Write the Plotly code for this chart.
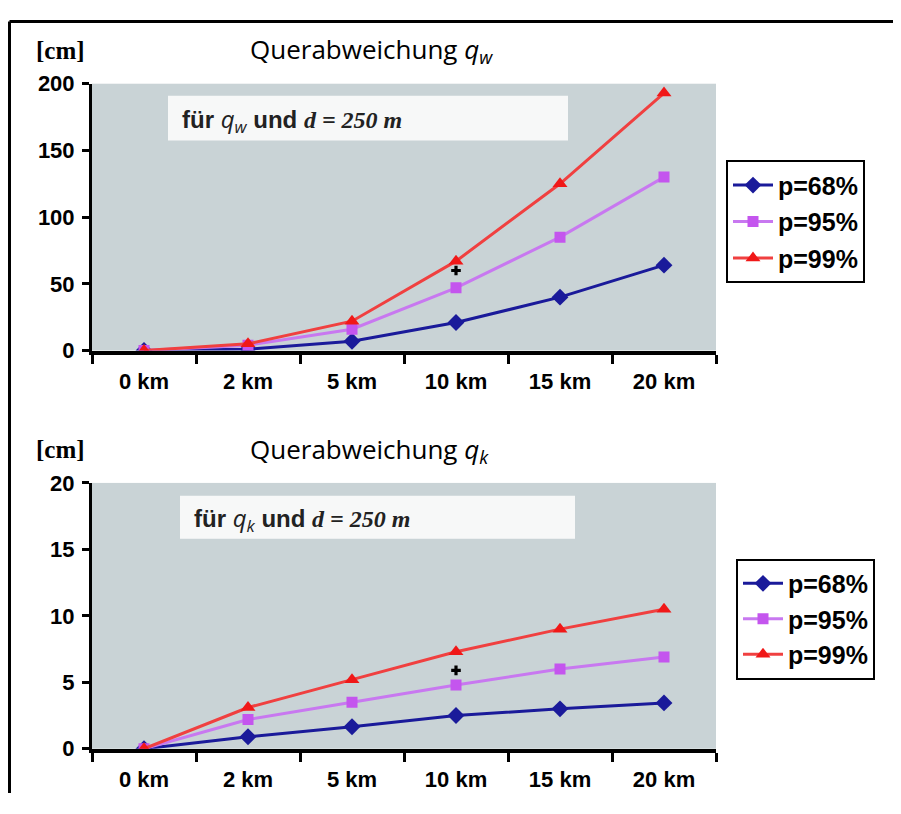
import plotly.graph_objects as go

categories = ["0 km", "2 km", "5 km", "10 km", "15 km", "20 km"]

# Top chart: Querabweichung q_w [cm]
qw_p68 = [0, 1, 7, 21, 40, 64]
qw_p95 = [0, 4, 16, 47, 85, 130]
qw_p99 = [0, 5, 22, 67, 125, 193]
qw_cross = 60

# Bottom chart: Querabweichung q_k [cm]
qk_p68 = [0, 0.9, 1.65, 2.5, 3.0, 3.45]
qk_p95 = [0, 2.2, 3.5, 4.8, 6.0, 6.9]
qk_p99 = [0, 3.1, 5.2, 7.3, 9.0, 10.5]
qk_cross = 5.9

series_names = ["p=68%", "p=95%", "p=99%"]
qw_ticks = [0, 50, 100, 150, 200]
qk_ticks = [0, 5, 10, 15, 20]

# page body has an 8px margin; the figure is sized to fit inside the window
OFF = 8
W, H = 901 - 2 * OFF, 814 - 2 * OFF
YA, YB = 19.0, 0.973   # observed vertical placement of the page in the photo
def px(x):
    return (x - OFF) / W
def py(y):
    return 1 - ((y - YA) / YB) / H

BLUE = "#1a1a9a"
PINK_M = "#c455ee"
PINK_L = "#c878f0"
RED = "#f01818"
RED_L = "#f04040"
BG = "#c9d3d6"
SANS = "Liberation Sans, Arial, sans-serif"
LABEL_FONT = dict(family=SANS, size=22, color="black", weight="bold")

styles = [
    dict(line=dict(color=BLUE, width=3), marker=dict(symbol="diamond", size=13, color=BLUE)),
    dict(line=dict(color=PINK_L, width=3), marker=dict(symbol="square", size=11, color=PINK_M)),
    dict(line=dict(color=RED_L, width=3), marker=dict(symbol="triangle-up", size=13, color=RED)),
]

fig = go.Figure()

for i, (name, vals) in enumerate(zip(series_names, [qw_p68, qw_p95, qw_p99])):
    fig.add_trace(go.Scatter(x=categories, y=vals, mode="lines+markers", name=name,
                             xaxis="x", yaxis="y", legend="legend", legendgroup="a%d" % i,
                             **styles[i]))
fig.add_trace(go.Scatter(x=["10 km"], y=[qw_cross], mode="markers", showlegend=False,
                         xaxis="x", yaxis="y",
                         marker=dict(symbol="cross", size=8, color="black")))

for i, (name, vals) in enumerate(zip(series_names, [qk_p68, qk_p95, qk_p99])):
    fig.add_trace(go.Scatter(x=categories, y=vals, mode="lines+markers", name=name,
                             xaxis="x2", yaxis="y2", legend="legend2", legendgroup="b%d" % i,
                             **styles[i]))
fig.add_trace(go.Scatter(x=["10 km"], y=[qk_cross], mode="markers", showlegend=False,
                         xaxis="x2", yaxis="y2",
                         marker=dict(symbol="cross", size=8, color="black")))

xdom = [px(92), px(716)]
top_dom = [py(351), py(83)]
bot_dom = [py(751), py(484)]

def xaxis_cfg(anchor):
    return dict(domain=xdom, anchor=anchor, type="category", categoryorder="array",
                categoryarray=categories, range=[-0.5, 5.5],
                showline=True, linecolor="black", linewidth=4,
                ticks="outside", tickson="boundaries", ticklen=9, tickwidth=3, tickcolor="black",
                tickfont=LABEL_FONT, ticklabelstandoff=8,
                showgrid=False, zeroline=False, fixedrange=True)

def yaxis_cfg(anchor, dom, ticks, rng):
    return dict(domain=dom, anchor=anchor, range=rng, tickvals=ticks,
                showline=True, linecolor="black", linewidth=3,
                ticks="outside", ticklen=7, tickwidth=3, tickcolor="black",
                tickfont=LABEL_FONT, ticklabelstandoff=3,
                showgrid=False, zeroline=False, fixedrange=True)

def grid_cfg(over, anchor, dom, ticks, rng):
    return dict(domain=dom, anchor=anchor, overlaying=over, range=rng, tickvals=ticks[1:-1],
                showgrid=True, gridcolor="black", gridwidth=3, showticklabels=False,
                ticks="", showline=False, zeroline=False, fixedrange=True, layer="below traces")

LEG_FONT = dict(family=SANS, size=25, color="black", weight="bold")
fig.update_layout(
    width=W, height=H,
    margin=dict(l=0, r=0, t=0, b=0),
    paper_bgcolor="white", plot_bgcolor=BG,
    xaxis=xaxis_cfg("y"),
    yaxis=yaxis_cfg("x", top_dom, qw_ticks, [0, 200]),
    xaxis2=xaxis_cfg("y2"),
    yaxis2=yaxis_cfg("x2", bot_dom, qk_ticks, [0, 20]),
    yaxis3=grid_cfg("y", "x", top_dom, qw_ticks, [0, 200]),
    yaxis4=grid_cfg("y2", "x2", bot_dom, qk_ticks, [0, 20]),
    legend=dict(x=px(726), y=py(160), xanchor="left", yanchor="top",
                bgcolor="white", bordercolor="black", borderwidth=2,
                font=LEG_FONT, tracegroupgap=1, itemwidth=40),
    legend2=dict(x=px(736), y=py(560), xanchor="left", yanchor="top",
                 bgcolor="white", bordercolor="black", borderwidth=2,
                 font=LEG_FONT, tracegroupgap=0, itemwidth=40),
    showlegend=True,
)

# outer frame (top and left edges)
fig.add_shape(type="line", xref="paper", yref="paper", x0=1.5 / W, x1=1, y0=1 - 1.5 / H, y1=1 - 1.5 / H,
              line=dict(color="black", width=3))
fig.add_shape(type="line", xref="paper", yref="paper", x0=1.5 / W, x1=1.5 / W, y0=1 - 1.5 / H, y1=0,
              line=dict(color="black", width=3))

serif = "Liberation Serif, Times New Roman, serif"
title_font = dict(family="Open Sans, Noto Sans, sans-serif", size=26, color="black")

for ycm, ytitle, sub, (bx0, by0, bx1, by1) in [
    (50, 46, "w", (168, 95, 568, 140)),
    (450, 448, "k", (180, 497, 575, 540)),
]:
    fig.add_annotation(xref="paper", yref="paper", x=px(60), y=py(ycm), xanchor="center", yanchor="middle",
                       text="<b>[cm]</b>", showarrow=False,
                       font=dict(family=serif, size=25, color="black"))
    fig.add_annotation(xref="paper", yref="paper", x=px(248), y=py(ytitle + 3), xanchor="left", yanchor="middle",
                       text="Querabweichung <i>q<sub>%s</sub></i>" % sub, showarrow=False,
                       font=title_font)
    fig.add_shape(type="rect", xref="paper", yref="paper", x0=px(bx0), x1=px(bx1), y0=py(by1), y1=py(by0),
                  fillcolor="#f7f8f8", line=dict(width=0), layer="below")
    fig.add_annotation(xref="paper", yref="paper", x=px(bx0 + 12), y=py((by0 + by1) / 2 + 2),
                       xanchor="left", yanchor="middle", showarrow=False,
                       text=("<b>für</b> <span style='font-family:Open Sans'><i>q<sub>%s</sub></i></span> "
                             "<b>und</b> <span style='font-family:%s'><b><i>d = 250 m</i></b></span>") % (sub, serif),
                       font=dict(family=SANS, size=24, color="#222"))

fig.write_html("out.html")
